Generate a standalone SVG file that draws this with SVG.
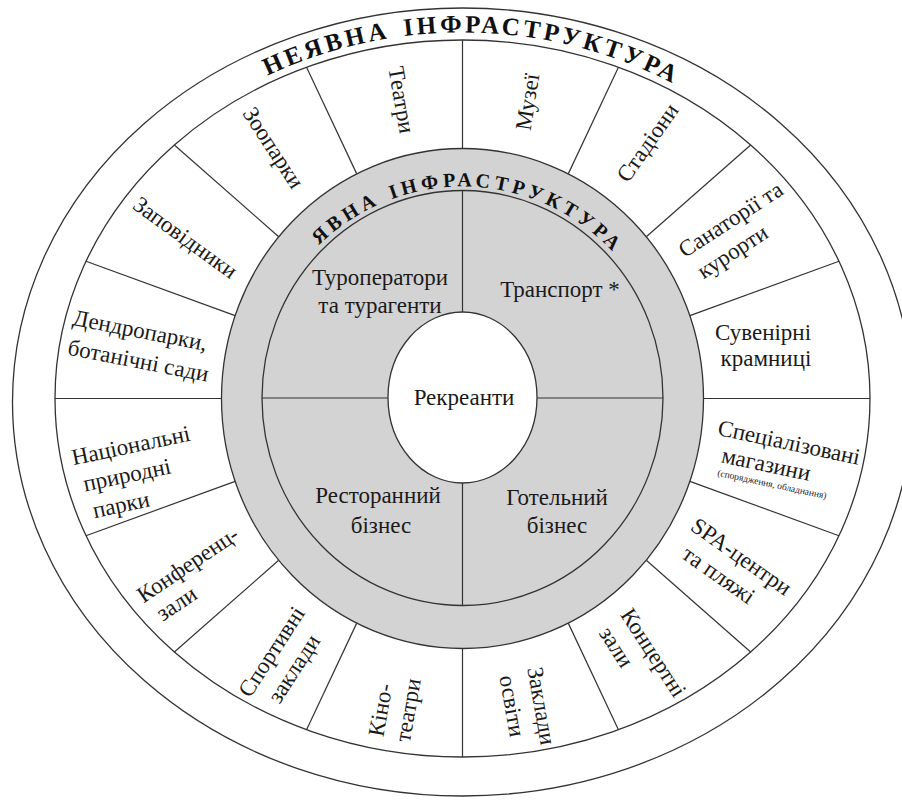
<svg xmlns="http://www.w3.org/2000/svg" width="902" height="800" viewBox="0 0 902 800">
<defs>
<style>
.ln{stroke:#333;stroke-width:1.2;fill:none}
.el{stroke:#333;stroke-width:1.3}
.t{font-family:"Liberation Serif","DejaVu Serif",serif;font-size:23px;fill:#1a1a1a;text-anchor:middle}
.sm{font-family:"Liberation Serif","DejaVu Serif",serif;font-size:9.5px;fill:#1a1a1a;text-anchor:middle}
.ttl{font-family:"Liberation Serif","DejaVu Serif",serif;font-weight:bold;fill:#111;text-anchor:middle}
</style>
<path id="outerArc" d="M 49.5,398.5 A 413 366 0 0 1 875.5,398.5"/>
<path id="innerArc" d="M 254.5,398.5 A 208 212 0 0 1 670.5,398.5"/>
</defs>
<rect width="902" height="800" fill="#fff"/>
<g id="outer-ring">
<ellipse class="el" cx="462.5" cy="402" rx="450" ry="394" fill="#fff"/>
<ellipse class="el" cx="462.5" cy="398.5" rx="407.5" ry="358.5" fill="#fff"/>
</g>
<g id="connectors" class="ln">
<line x1="462.5" y1="40" x2="462.5" y2="148.5"/>
<line x1="618.44" y1="67.29" x2="568.26" y2="173.87"/>
<line x1="750.64" y1="145" x2="646.3" y2="236.79"/>
<line x1="838.98" y1="261.31" x2="689.88" y2="315.64"/>
<line x1="870" y1="398.5" x2="703.5" y2="398.5"/>
<line x1="838.98" y1="535.69" x2="689.88" y2="481.36"/>
<line x1="750.64" y1="652" x2="646.3" y2="560.21"/>
<line x1="618.44" y1="729.71" x2="568.26" y2="623.13"/>
<line x1="462.5" y1="757" x2="462.5" y2="648.5"/>
<line x1="306.56" y1="729.71" x2="356.74" y2="623.13"/>
<line x1="174.36" y1="652" x2="278.7" y2="560.21"/>
<line x1="86.02" y1="535.69" x2="235.12" y2="481.36"/>
<line x1="55" y1="398.5" x2="221.5" y2="398.5"/>
<line x1="86.02" y1="261.31" x2="235.12" y2="315.64"/>
<line x1="174.36" y1="145" x2="278.7" y2="236.79"/>
<line x1="306.56" y1="67.29" x2="356.74" y2="173.87"/>
</g>
<g id="explicit-ring">
<ellipse class="el" cx="462.5" cy="398.5" rx="241" ry="250" fill="#d3d3d3"/>
<ellipse class="el" cx="462.5" cy="398" rx="200.5" ry="207.5" fill="#d3d3d3"/>
</g>
<g id="quadrant-lines" class="ln">
<line x1="462.5" y1="190.5" x2="462.5" y2="312"/>
<line x1="462.5" y1="483" x2="462.5" y2="605.5"/>
<line x1="262" y1="398" x2="388" y2="398"/>
<line x1="537" y1="398" x2="663" y2="398"/>
</g>
<g id="title-implicit">
<text class="ttl" font-size="25" letter-spacing="3.5" word-spacing="4"><textPath href="#outerArc" startOffset="50.8%">НЕЯВНА ІНФРАСТРУКТУРА</textPath></text>
</g>
<g id="title-explicit">
<text class="ttl" font-size="20" letter-spacing="4.3" word-spacing="2"><textPath href="#innerArc" startOffset="51%">ЯВНА ІНФРАСТРУКТУРА</textPath></text>
</g>
<g id="tour-operators"><text class="t" x="380" y="285">Туроператори</text><text class="t" x="380" y="313">та турагенти</text></g>
<g id="transport"><text class="t" x="560" y="297">Транспорт *</text></g>
<g id="restaurant"><text class="t" x="378" y="503">Ресторанний</text><text class="t" x="381" y="533">бізнес</text></g>
<g id="hotel"><text class="t" x="557" y="505">Готельний</text><text class="t" x="557" y="533">бізнес</text></g>
<g id="recreants">
<ellipse class="el" cx="462.5" cy="397.5" rx="74.5" ry="85.5" fill="#fff"/>
<text class="t" x="464" y="405">Рекреанти</text>
</g>
<g id="theatres" transform="translate(401,100) rotate(80)"><text class="t" y="7">Театри</text></g>
<g id="museums" transform="translate(528,102) rotate(-81)"><text class="t" y="7">Музеї</text></g>
<g id="stadiums" transform="translate(648,143) rotate(-55)"><text class="t" y="7">Стадіони</text></g>
<g id="sanatoriums" transform="translate(731,220) rotate(-33)"><text class="t" y="7">Санаторії та</text><text class="t" x="-16" y="35">курорти</text></g>
<g id="souvenirs"><text class="t" x="763" y="340">Сувенірні</text><text class="t" x="766" y="366">крамниці</text></g>
<g id="specialized" transform="translate(789,443) rotate(12)"><text class="t" y="7">Спеціалізовані</text><text class="t" x="-18" y="33">магазини</text><text class="sm" x="-8" y="47">(спорядження, обладнання)</text></g>
<g id="spa" transform="translate(741,557) rotate(35)"><text class="t" y="7">SPA-центри</text><text class="t" x="-8" y="35">та пляжі</text></g>
<g id="concert-halls" transform="translate(653,653) rotate(57)"><text class="t" y="7">Концертні</text><text class="t" x="-25" y="35">зали</text></g>
<g id="education" transform="translate(541,706) rotate(80)"><text class="t" y="7">Заклади</text><text class="t" x="-5" y="36">освіти</text></g>
<g id="cinemas" transform="translate(381,710) rotate(-80)"><text class="t" y="7">Кіно-</text><text class="t" x="4.5" y="34">театри</text></g>
<g id="sports" transform="translate(272,652) rotate(-57)"><text class="t" y="7">Спортивні</text><text class="t" x="-2" y="35">заклади</text></g>
<g id="conference" transform="translate(188,565) rotate(-34)"><text class="t" y="7">Конференц-</text><text class="t" x="-31" y="33">зали</text></g>
<g id="national-parks" transform="translate(131,446) rotate(-12)"><text class="t" y="7">Національні</text><text class="t" x="-10" y="35">природні</text><text class="t" x="-22" y="63">парки</text></g>
<g id="dendroparks" transform="translate(140,331) rotate(11)"><text class="t" y="7">Дендропарки,</text><text class="t" x="4" y="37">ботанічні сади</text></g>
<g id="reserves" transform="translate(185,238) rotate(36)"><text class="t" y="7">Заповідники</text></g>
<g id="zoos" transform="translate(273,148) rotate(57)"><text class="t" y="7">Зоопарки</text></g>
</svg>
